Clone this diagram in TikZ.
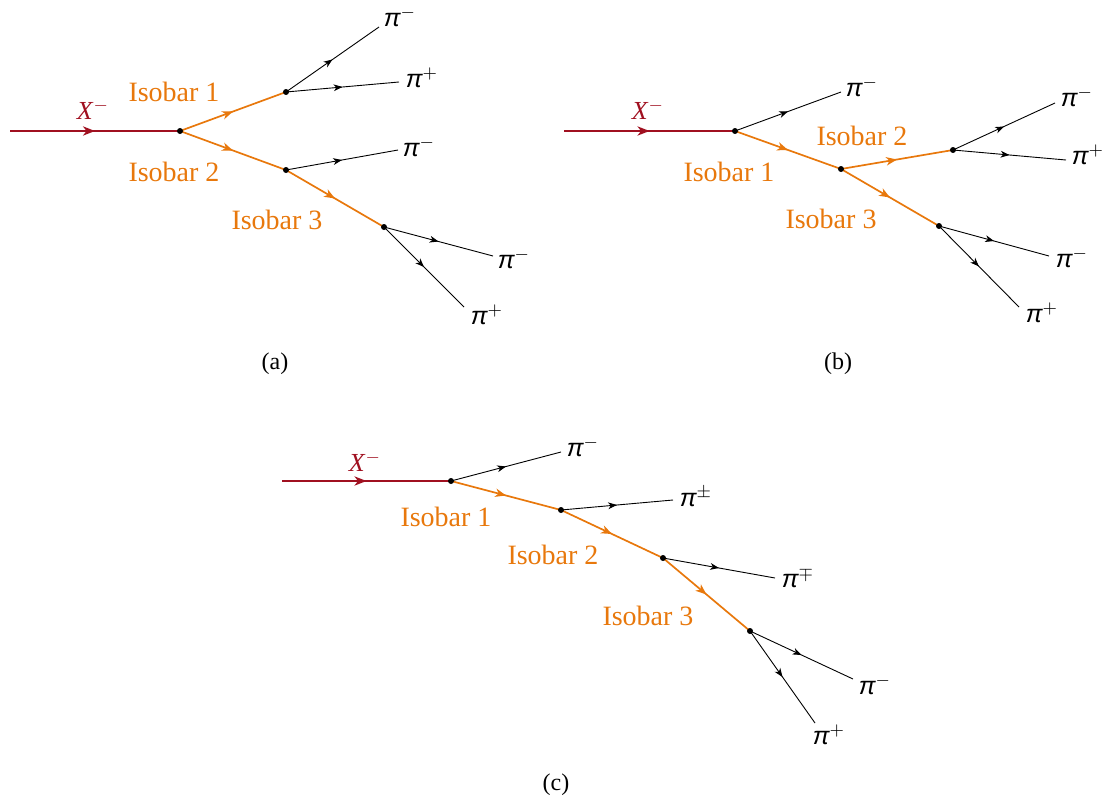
\documentclass[tikz,border=0pt]{standalone}
\usepackage{fontspec}
\setmainfont{Liberation Serif}
\newfontfamily\pifont{Liberation Sans}
\usepackage{xcolor}
\usepackage{tikz}
\usetikzlibrary{arrows.meta,decorations.markings}

\definecolor{xred}{RGB}{160,16,32}
\definecolor{isoorange}{RGB}{232,120,12}

\newcommand{\pion}[1]{{\pifont\itshape π}$^{#1}$}

\begin{document}
\begin{tikzpicture}[x=0.5pt, y=-0.5pt,
        midarrow/.style={postaction={decorate}, decoration={markings, mark=at position 0.5 with {\arrow{#1}}}},
        mother/.style={color=xred, line width=1pt, midarrow={Stealth[length=6pt, width=4.6pt, inset=1.8pt]}},
        isobar/.style={color=isoorange, line width=0.85pt, midarrow={Stealth[length=5.4pt, width=4.2pt, inset=1.6pt]}},
        pionline/.style={color=black, line width=0.45pt, midarrow={Stealth[length=4.4pt, width=3.4pt, inset=1.3pt]}},
        motherlabel/.style={text=xred, font=\fontsize{13}{15}\selectfont},
        isolabel/.style={text=isoorange, font=\fontsize{14}{16}\selectfont},
        pionlabel/.style={font=\fontsize{12.5}{14}\selectfont},
        caption/.style={font=\fontsize{12}{14}\selectfont}
    ]
        \useasboundingbox (0,0) rectangle (1107,803);

        % (a)
        \coordinate (a0) at (10,131);
        \coordinate (a1) at (180,131);
        \coordinate (a2) at (286,92);
        \coordinate (a3) at (286,170);
        \coordinate (a4) at (384,227);
        \coordinate (a2m) at (379,27);
        \coordinate (a2p) at (399,82);
        \coordinate (a3m) at (398,150);
        \coordinate (a4m) at (493,256);
        \coordinate (a4p) at (464,307);
        \node[motherlabel] (aX) at (93,110) {\textit{X}$^{-}$};
        \node[isolabel] (aiso1) at (174,92) {Isobar 1};
        \node[isolabel] (aiso2) at (174,172) {Isobar 2};
        \node[isolabel] (aiso3) at (277,220) {Isobar 3};
        \node[pionlabel] (aL2m) at (400,17) {\pion{-}};
        \node[pionlabel] (aL2p) at (422,78) {\pion{+}};
        \node[pionlabel] (aL3m) at (419,147) {\pion{-}};
        \node[pionlabel] (aL4m) at (514,259) {\pion{-}};
        \node[pionlabel] (aL4p) at (487,315) {\pion{+}};
        \node[caption] (acap) at (275,364) {(a)};

        \draw[mother] (a0) -- (a1);
        \draw[isobar] (a1) -- (a2);
        \draw[isobar] (a1) -- (a3);
        \draw[isobar] (a3) -- (a4);
        \draw[pionline] (a2) -- (a2m);
        \draw[pionline] (a2) -- (a2p);
        \draw[pionline] (a3) -- (a3m);
        \draw[pionline] (a4) -- (a4m);
        \draw[pionline] (a4) -- (a4p);

        % (b)
        \coordinate (b0) at (564,131);
        \coordinate (b1) at (735,131);
        \coordinate (b2) at (841,169);
        \coordinate (b3) at (953,150);
        \coordinate (b4) at (939,226);
        \coordinate (b1m) at (841,92);
        \coordinate (b3m) at (1055,103);
        \coordinate (b3p) at (1066,160);
        \coordinate (b4m) at (1049,256);
        \coordinate (b4p) at (1019,307);
        \node[motherlabel] (bX) at (648,110) {\textit{X}$^{-}$};
        \node[isolabel] (biso1) at (729,172) {Isobar 1};
        \node[isolabel] (biso2) at (862,136) {Isobar 2};
        \node[isolabel] (biso3) at (831,219) {Isobar 3};
        \node[pionlabel] (bL1m) at (862,87) {\pion{-}};
        \node[pionlabel] (bL3m) at (1077,97) {\pion{-}};
        \node[pionlabel] (bL3p) at (1088,155) {\pion{+}};
        \node[pionlabel] (bL4m) at (1072,258) {\pion{-}};
        \node[pionlabel] (bL4p) at (1042,313) {\pion{+}};
        \node[caption] (bcap) at (838,364) {(b)};

        \draw[mother] (b0) -- (b1);
        \draw[isobar] (b1) -- (b2);
        \draw[isobar] (b2) -- (b3);
        \draw[isobar] (b2) -- (b4);
        \draw[pionline] (b1) -- (b1m);
        \draw[pionline] (b3) -- (b3m);
        \draw[pionline] (b3) -- (b3p);
        \draw[pionline] (b4) -- (b4m);
        \draw[pionline] (b4) -- (b4p);

        % (c)
        \coordinate (c0) at (282,481);
        \coordinate (c1) at (451,481);
        \coordinate (c2) at (561,510);
        \coordinate (c3) at (663,558);
        \coordinate (c4) at (750,631);
        \coordinate (c1m) at (561,452);
        \coordinate (c2pm) at (673,500);
        \coordinate (c3mp) at (775,578);
        \coordinate (c4m) at (853,679);
        \coordinate (c4p) at (815,723);
        \node[motherlabel] (cX) at (365,462) {\textit{X}$^{-}$};
        \node[isolabel] (ciso1) at (446,517) {Isobar 1};
        \node[isolabel] (ciso2) at (553,555) {Isobar 2};
        \node[isolabel] (ciso3) at (648,616) {Isobar 3};
        \node[pionlabel] (cL1m) at (583,447) {\pion{-}};
        \node[pionlabel] (cL2pm) at (696,497) {\pion{\pm}};
        \node[pionlabel] (cL3mp) at (798,578) {\pion{\mp}};
        \node[pionlabel] (cL4m) at (875,685) {\pion{-}};
        \node[pionlabel] (cL4p) at (829,735) {\pion{+}};
        \node[caption] (ccap) at (556,785) {(c)};

        \draw[mother] (c0) -- (c1);
        \draw[isobar] (c1) -- (c2);
        \draw[isobar] (c2) -- (c3);
        \draw[isobar] (c3) -- (c4);
        \draw[pionline] (c1) -- (c1m);
        \draw[pionline] (c2) -- (c2pm);
        \draw[pionline] (c3) -- (c3mp);
        \draw[pionline] (c4) -- (c4m);
        \draw[pionline] (c4) -- (c4p);

        \foreach \v in {a1,a2,a3,a4,b1,b2,b3,b4,c1,c2,c3,c4}
            \fill (\v) circle (1.5pt);
    \end{tikzpicture}
\end{document}
